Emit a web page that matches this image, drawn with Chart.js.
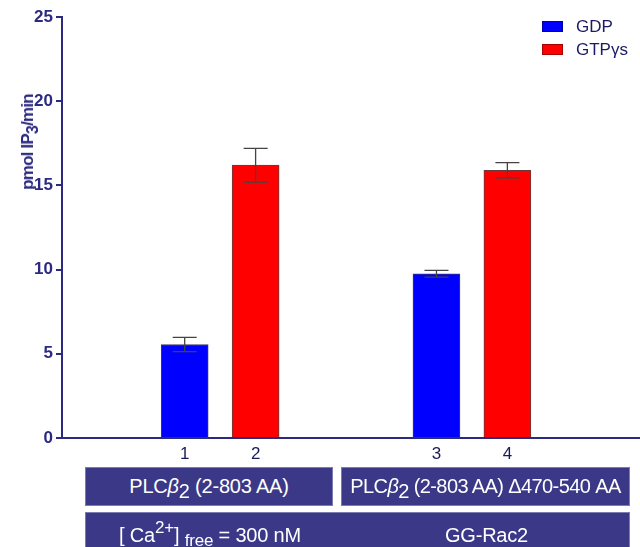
<!DOCTYPE html>
<html>
<head>
<meta charset="utf-8">
<script src="https://cdn.jsdelivr.net/npm/chart.js@4.4.0/dist/chart.umd.min.js"></script>
<style>
  body { margin: 0; background: #fff; }
  #wrap { position: relative; width: 640px; height: 547px; overflow: hidden; font-family: "Liberation Sans", Arial, sans-serif; }
  #chart { position: absolute; left: 0; top: 0; }
  #ytitle { position: absolute; left: 28px; top: 142px; transform: translate(-50%, -50%) rotate(-90deg);
            white-space: nowrap; font-weight: bold; font-size: 17px; letter-spacing: -0.8px; color: #2b2a80; }
  #ytitle sub { font-size: 16px; vertical-align: -5px; line-height: 0; }
  #legend { position: absolute; left: 542px; top: 15px; }
  #legend .item { height: 23px; display: flex; align-items: center; font-size: 17px; color: #1a1a66; }
  #legend .sw { width: 21px; height: 11px; margin-right: 13px; box-sizing: border-box; border: 1px solid rgba(0,0,0,0.35); }
  .box { position: absolute; background: #3b3987; border: 1px solid #7d7bb4; box-sizing: border-box; letter-spacing: -0.2px;
         color: #fff; font-size: 20px; display: flex; align-items: center; justify-content: center; white-space: nowrap; }
  .box.tight { letter-spacing: -0.6px; }
  .box .lo { position: relative; top: 5px; }
  .box .hi { position: relative; top: -7px; font-size: 17px; }
  .box .sm { position: relative; top: 6px; font-size: 17px; }
  .half { position: absolute; top: 0; bottom: 0; display: flex; align-items: center; justify-content: center; }
</style>
</head>
<body>
<div id="wrap">
  <canvas id="chart" width="640" height="547"></canvas>
  <div id="ytitle">pmol IP<sub>3</sub>/min</div>
  <div id="legend"></div>
  <div class="box" style="left:85px; top:467px; width:248px; height:39px;">PLC<i>β</i><span class="lo">2</span>&nbsp;(2-803 AA)</div>
  <div class="box tight" style="left:341px; top:467px; width:289px; height:39px;">PLC<i>β</i><span class="lo">2</span>&nbsp;(2-803 AA) Δ470-540 AA</div>
  <div class="box" style="left:85px; top:512px; width:545px; height:46px;">
    <div class="half" style="left:0; width:248px;">[ Ca<span class="hi">2+</span>]&nbsp;<span class="sm">free</span>&nbsp;= 300 nM</div>
    <div class="half" style="left:256px; width:289px;">GG-Rac2</div>
  </div>
</div>
<script>
// bar labels under the x axis, and where each bar sits on the x axis
const tickLabels = ['1', '2', '3', '4'];
const xSlots = [1.73, 2.73, 5.28, 6.28];

// GDP -> bars 1 and 3, GTPγs -> bars 2 and 4
const gdpSlots = [0, 2];
const gdpValues = [5.55, 9.75];
const gdpErrors = [0.42, 0.2];

const gtpSlots = [1, 3];
const gtpValues = [16.2, 15.9];
const gtpErrors = [1.0, 0.45];

const navy = '#2b2a80';

const errorBars = {
  id: 'errorBars',
  afterDatasetsDraw(chart) {
    const ctx = chart.ctx;
    const yScale = chart.scales.y;
    chart.data.datasets.forEach((ds, di) => {
      const meta = chart.getDatasetMeta(di);
      meta.data.forEach((bar, i) => {
        const v = ds.data[i].y;
        const e = ds.errors[i];
        const top = yScale.getPixelForValue(v + e);
        const bot = yScale.getPixelForValue(v - e);
        ctx.save();
        ctx.strokeStyle = '#444';
        ctx.lineWidth = 1.3;
        ctx.beginPath();
        ctx.moveTo(bar.x, top);
        ctx.lineTo(bar.x, bot);
        ctx.moveTo(bar.x - 12, top);
        ctx.lineTo(bar.x + 12, top);
        ctx.moveTo(bar.x - 12, bot);
        ctx.lineTo(bar.x + 12, bot);
        ctx.stroke();
        ctx.restore();
      });
    });
  }
};

const chart = new Chart(document.getElementById('chart'), {
  type: 'bar',
  data: {
    datasets: [
      {
        label: 'GDP',
        data: gdpSlots.map((s, i) => ({ x: xSlots[s], y: gdpValues[i] })),
        errors: gdpErrors,
        backgroundColor: '#0000ff',
        borderColor: '#3a3a6a',
        borderWidth: 1,
        barThickness: 47,
        grouped: false
      },
      {
        label: 'GTPγs',
        data: gtpSlots.map((s, i) => ({ x: xSlots[s], y: gtpValues[i] })),
        errors: gtpErrors,
        backgroundColor: '#ff0000',
        borderColor: '#6a3a3a',
        borderWidth: 1,
        barThickness: 47,
        grouped: false
      }
    ]
  },
  options: {
    responsive: false,
    animation: false,
    layout: { padding: { left: 0, top: 17, right: 0, bottom: 79 } },
    plugins: {
      legend: { display: false },
      tooltip: { enabled: false }
    },
    scales: {
      x: {
        type: 'linear',
        offset: false,
        min: 0,
        max: 8.15,
        afterBuildTicks: (scale) => { scale.ticks = xSlots.map(v => ({ value: v })); },
        afterFit: (scale) => { scale.height = 30; },
        ticks: {
          callback: (v, i) => tickLabels[i],
          color: '#1a1a5a',
          font: { family: 'Liberation Sans', size: 17 },
          padding: 6,
          maxRotation: 0,
          autoSkip: false
        },
        grid: { display: false, drawTicks: false },
        border: { color: navy, width: 2 }
      },
      y: {
        min: 0,
        max: 25,
        afterFit: (scale) => { scale.width = 62; },
        ticks: {
          stepSize: 5,
          color: navy,
          font: { family: 'Liberation Sans', size: 17, weight: 'bold' },
          padding: 3
        },
        grid: { drawOnChartArea: false, drawTicks: true, tickLength: 6, color: navy, lineWidth: 2 },
        border: { color: navy, width: 2 }
      }
    }
  },
  plugins: [errorBars]
});

// legend built from the datasets
const legend = document.getElementById('legend');
chart.data.datasets.forEach(ds => {
  const item = document.createElement('div');
  item.className = 'item';
  const sw = document.createElement('span');
  sw.className = 'sw';
  sw.style.background = ds.backgroundColor;
  item.appendChild(sw);
  item.appendChild(document.createTextNode(ds.label));
  legend.appendChild(item);
});
</script>
</body>
</html>
